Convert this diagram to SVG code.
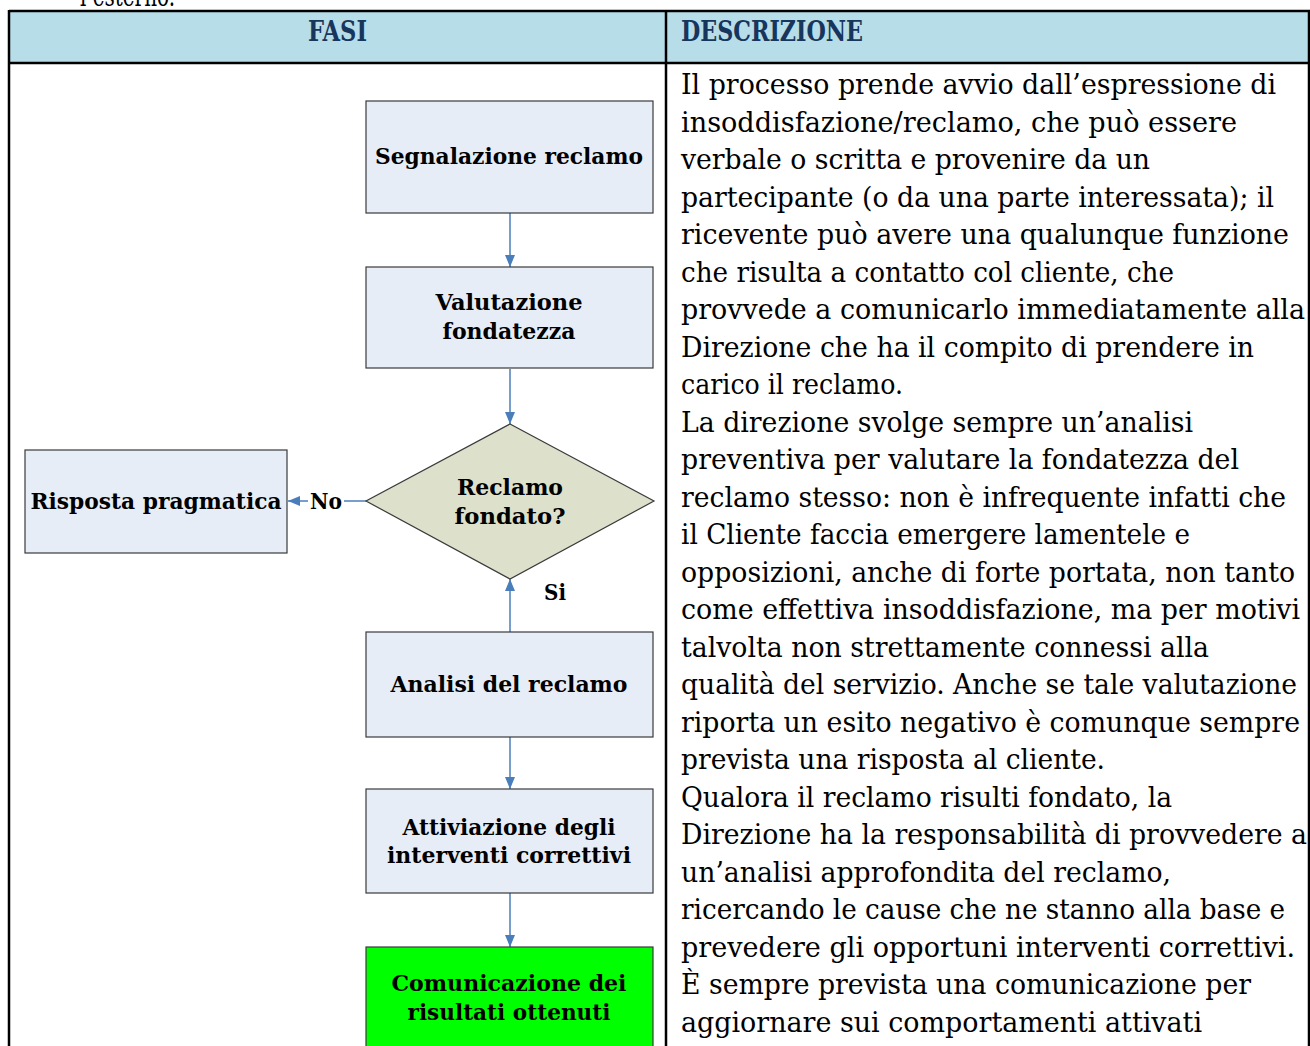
<svg xmlns="http://www.w3.org/2000/svg" width="1310" height="1046" viewBox="0 0 1310 1046">
<style>
.body{font-family:"DejaVu Serif Condensed","DejaVu Serif","Liberation Serif",serif;font-size:28px;fill:#000}
.hdr{font-family:"DejaVu Serif Condensed","DejaVu Serif","Liberation Serif",serif;font-size:27px;font-weight:bold;fill:#17365D}
.lbl{font-family:"DejaVu Serif","Liberation Serif",serif;font-size:23px;font-weight:bold;fill:#000;text-anchor:middle}
.box{fill:#E7EDF7;stroke:#3A3A3A;stroke-width:1.2}
.grid{stroke:#000;stroke-width:2.5;fill:none}
.conn{stroke:#4A7EBB;stroke-width:1.5;fill:none;marker-end:url(#ah)}
</style>
<defs>
<marker id="ah" markerUnits="userSpaceOnUse" markerWidth="12" markerHeight="10" refX="12" refY="5" orient="auto">
<path d="M0,0 L12,5 L0,10 z" fill="#4A7EBB"/>
</marker>
</defs>
<rect width="1310" height="1046" fill="#fff"/>
<text class="body" x="80" y="6" textLength="95" lengthAdjust="spacingAndGlyphs">l’esterno.</text>
<g id="table">
<rect x="9" y="11" width="1301" height="52" fill="#B7DDE8"/>
<line class="grid" x1="9" y1="11" x2="1310" y2="11"/>
<line class="grid" x1="9" y1="63" x2="1310" y2="63" stroke-width="3"/>
<line class="grid" x1="9" y1="10" x2="9" y2="1046"/>
<line class="grid" x1="666" y1="10" x2="666" y2="1046"/>
<line class="grid" x1="1309" y1="10" x2="1309" y2="1046"/>
<text class="hdr" x="308" y="41" textLength="59" lengthAdjust="spacingAndGlyphs">FASI</text>
<text class="hdr" x="681" y="41" textLength="182" lengthAdjust="spacingAndGlyphs">DESCRIZIONE</text>
</g>
<g id="description">
<text class="body" x="681" y="94" textLength="595" lengthAdjust="spacingAndGlyphs">Il processo prende avvio dall’espressione di</text>
<text class="body" x="681" y="131.5" textLength="556" lengthAdjust="spacingAndGlyphs">insoddisfazione/reclamo, che può essere</text>
<text class="body" x="681" y="169" textLength="469" lengthAdjust="spacingAndGlyphs">verbale o scritta e provenire da un</text>
<text class="body" x="681" y="206.5" textLength="593" lengthAdjust="spacingAndGlyphs">partecipante (o da una parte interessata); il</text>
<text class="body" x="681" y="244" textLength="608" lengthAdjust="spacingAndGlyphs">ricevente può avere una qualunque funzione</text>
<text class="body" x="681" y="281.5" textLength="493" lengthAdjust="spacingAndGlyphs">che risulta a contatto col cliente, che</text>
<text class="body" x="681" y="319" textLength="624" lengthAdjust="spacingAndGlyphs">provvede a comunicarlo immediatamente alla</text>
<text class="body" x="681" y="356.5" textLength="573" lengthAdjust="spacingAndGlyphs">Direzione che ha il compito di prendere in</text>
<text class="body" x="681" y="394" textLength="222" lengthAdjust="spacingAndGlyphs">carico il reclamo.</text>
<text class="body" x="681" y="431.5" textLength="512" lengthAdjust="spacingAndGlyphs">La direzione svolge sempre un’analisi</text>
<text class="body" x="681" y="469" textLength="558" lengthAdjust="spacingAndGlyphs">preventiva per valutare la fondatezza del</text>
<text class="body" x="681" y="506.5" textLength="605" lengthAdjust="spacingAndGlyphs">reclamo stesso: non è infrequente infatti che</text>
<text class="body" x="681" y="544" textLength="509" lengthAdjust="spacingAndGlyphs">il Cliente faccia emergere lamentele e</text>
<text class="body" x="681" y="581.5" textLength="614" lengthAdjust="spacingAndGlyphs">opposizioni, anche di forte portata, non tanto</text>
<text class="body" x="681" y="619" textLength="619" lengthAdjust="spacingAndGlyphs">come effettiva insoddisfazione, ma per motivi</text>
<text class="body" x="681" y="656.5" textLength="528" lengthAdjust="spacingAndGlyphs">talvolta non strettamente connessi alla</text>
<text class="body" x="681" y="694" textLength="616" lengthAdjust="spacingAndGlyphs">qualità del servizio. Anche se tale valutazione</text>
<text class="body" x="681" y="731.5" textLength="619" lengthAdjust="spacingAndGlyphs">riporta un esito negativo è comunque sempre</text>
<text class="body" x="681" y="769" textLength="424" lengthAdjust="spacingAndGlyphs">prevista una risposta al cliente.</text>
<text class="body" x="681" y="806.5" textLength="491" lengthAdjust="spacingAndGlyphs">Qualora il reclamo risulti fondato, la</text>
<text class="body" x="681" y="844" textLength="626" lengthAdjust="spacingAndGlyphs">Direzione ha la responsabilità di provvedere a</text>
<text class="body" x="681" y="881.5" textLength="490" lengthAdjust="spacingAndGlyphs">un’analisi approfondita del reclamo,</text>
<text class="body" x="681" y="919" textLength="604" lengthAdjust="spacingAndGlyphs">ricercando le cause che ne stanno alla base e</text>
<text class="body" x="681" y="956.5" textLength="614" lengthAdjust="spacingAndGlyphs">prevedere gli opportuni interventi correttivi.</text>
<text class="body" x="681" y="994" textLength="570" lengthAdjust="spacingAndGlyphs">È sempre prevista una comunicazione per</text>
<text class="body" x="681" y="1031.5" textLength="521" lengthAdjust="spacingAndGlyphs">aggiornare sui comportamenti attivati</text>
</g>
<g id="connectors">
<line class="conn" x1="510" y1="213" x2="510" y2="267"/>
<line class="conn" x1="510" y1="369" x2="510" y2="424"/>
<line class="conn" x1="366" y1="501" x2="288" y2="501"/>
<line class="conn" x1="510" y1="632" x2="510" y2="579"/>
<line class="conn" x1="510" y1="737" x2="510" y2="789"/>
<line class="conn" x1="510" y1="893" x2="510" y2="947"/>
<rect x="308" y="489" width="36" height="24" fill="#fff"/>
<text class="lbl" x="326" y="509" textLength="32" lengthAdjust="spacingAndGlyphs">No</text>
<text class="lbl" x="555" y="600" textLength="22" lengthAdjust="spacingAndGlyphs">Si</text>
</g>
<g id="n1">
<rect class="box" x="366" y="101" width="287" height="112"/>
<text class="lbl" x="509" y="164" textLength="268" lengthAdjust="spacingAndGlyphs">Segnalazione reclamo</text>
</g>
<g id="n2">
<rect class="box" x="366" y="267" width="287" height="101"/>
<text class="lbl" x="509" y="310" textLength="147" lengthAdjust="spacingAndGlyphs">Valutazione</text>
<text class="lbl" x="509" y="339" textLength="133" lengthAdjust="spacingAndGlyphs">fondatezza</text>
</g>
<g id="n3">
<polygon points="510,424 654,501 510,579 366,501" fill="#DDE0CB" stroke="#3A3A3A" stroke-width="1.2"/>
<text class="lbl" x="510" y="495" textLength="106" lengthAdjust="spacingAndGlyphs">Reclamo</text>
<text class="lbl" x="510" y="524" textLength="111" lengthAdjust="spacingAndGlyphs">fondato?</text>
</g>
<g id="n4">
<rect class="box" x="25" y="450" width="262" height="103"/>
<text class="lbl" x="156" y="509" textLength="251" lengthAdjust="spacingAndGlyphs">Risposta pragmatica</text>
</g>
<g id="n5">
<rect class="box" x="366" y="632" width="287" height="105"/>
<text class="lbl" x="509" y="692" textLength="237" lengthAdjust="spacingAndGlyphs">Analisi del reclamo</text>
</g>
<g id="n6">
<rect class="box" x="366" y="789" width="287" height="104"/>
<text class="lbl" x="509" y="835" textLength="213" lengthAdjust="spacingAndGlyphs">Attiviazione degli</text>
<text class="lbl" x="509" y="863" textLength="244" lengthAdjust="spacingAndGlyphs">interventi correttivi</text>
</g>
<g id="n7">
<rect x="366" y="947" width="287" height="110" fill="#00FF00" stroke="#3A3A3A" stroke-width="1.2"/>
<text class="lbl" x="509" y="991" textLength="235" lengthAdjust="spacingAndGlyphs">Comunicazione dei</text>
<text class="lbl" x="509" y="1020" textLength="203" lengthAdjust="spacingAndGlyphs">risultati ottenuti</text>
</g>
</svg>
